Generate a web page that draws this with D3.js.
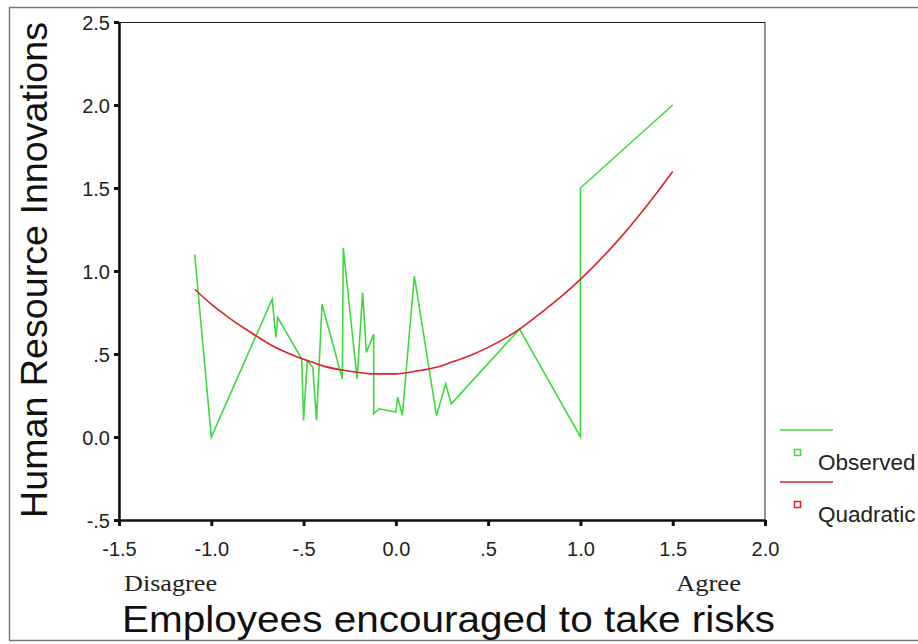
<!DOCTYPE html>
<html>
<head>
<meta charset="utf-8">
<script src="https://cdn.jsdelivr.net/npm/d3@7"></script>
<style>
  html, body { margin: 0; padding: 0; background: #fff; }
  svg { display: block; }
</style>
</head>
<body>
<svg id="chart" width="918" height="644"></svg>
<script>
// observed points (x = risk score, y = HR innovations)
const obsX = [-1.09, -1.0, -0.67, -0.65, -0.64, -0.51, -0.50, -0.48, -0.45, -0.43, -0.40,
  -0.29, -0.285, -0.21, -0.18, -0.16, -0.12, -0.12, -0.09, 0.0, 0.01, 0.035, 0.10,
  0.22, 0.27, 0.30, 0.67, 1.0, 1.0, 1.5];
const obsY = [1.10, 0.0, 0.83, 0.60, 0.72, 0.47, 0.10, 0.46, 0.42, 0.10, 0.80,
  0.35, 1.14, 0.35, 0.87, 0.51, 0.62, 0.14, 0.17, 0.15, 0.24, 0.13, 0.97,
  0.13, 0.32, 0.20, 0.65, 0.0, 1.5, 2.0];
// quadratic fit
const quadX = [-1.09, -1.0, -0.9, -0.8, -0.67, -0.55, -0.45, -0.40, -0.30, -0.21, -0.12,
  -0.05, 0.0, 0.10, 0.22, 0.30, 0.40, 0.50, 0.60, 0.67, 0.80, 0.90, 1.0, 1.2, 1.35, 1.5];
const quadY = [0.89, 0.80, 0.715, 0.64, 0.55, 0.49, 0.45, 0.43, 0.405, 0.39, 0.38,
  0.38, 0.38, 0.395, 0.42, 0.45, 0.49, 0.54, 0.60, 0.65, 0.76, 0.85, 0.95, 1.18, 1.38, 1.60];

const xTicks = [-1.5, -1.0, -0.5, 0.0, 0.5, 1.0, 1.5, 2.0];
const yTicks = [-0.5, 0.0, 0.5, 1.0, 1.5, 2.0, 2.5];
const legendItems = ['Observed', 'Quadratic'];

const green = '#3fd93f', red = '#d8232a';
const svg = d3.select('#chart');
const margin = { left: 119, top: 22, right: 765, bottom: 520 };

const x = d3.scaleLinear().domain([-1.5, 2.0]).range([margin.left, margin.right]);
const y = d3.scaleLinear().domain([-0.5, 2.5]).range([margin.bottom, margin.top]);

// SPSS style: 0.0, .5, -.5
const fmt = (v) => {
  if (v === 0) return '0.0';
  const s = v.toFixed(1);
  return s.replace(/^(-?)0\./, '$1.');
};

// outer frame
svg.append('rect')
  .attr('x', 9.5).attr('y', 7.5).attr('width', 930).attr('height', 633)
  .attr('fill', 'none').attr('stroke', '#777').attr('stroke-width', 1.5);

// plot frame
svg.append('rect')
  .attr('x', margin.left).attr('y', margin.top + 0.5)
  .attr('width', margin.right - margin.left).attr('height', margin.bottom - margin.top)
  .attr('fill', '#fff').attr('stroke', '#222').attr('stroke-width', 1);

const line = d3.line().x(d => x(d[0])).y(d => y(d[1]));

svg.append('path')
  .datum(d3.zip(obsX, obsY))
  .attr('d', line)
  .attr('fill', 'none').attr('stroke', green).attr('stroke-width', 1.6);

svg.append('path')
  .datum(d3.zip(quadX, quadY))
  .attr('d', line.curve(d3.curveMonotoneX))
  .attr('fill', 'none').attr('stroke', red).attr('stroke-width', 1.6);

// axes
const xAxis = svg.append('g')
  .attr('transform', 'translate(0,' + margin.bottom + ')')
  .call(d3.axisBottom(x).tickValues(xTicks).tickSize(6).tickSizeOuter(0).tickFormat(fmt));
const yAxis = svg.append('g')
  .attr('transform', 'translate(' + margin.left + ',0)')
  .call(d3.axisLeft(y).tickValues(yTicks).tickSize(5).tickSizeOuter(0).tickFormat(fmt));

[xAxis, yAxis].forEach(g => {
  g.select('.domain').attr('stroke', '#111').attr('stroke-width', 2.5);
  g.selectAll('.tick line').attr('stroke', '#111').attr('stroke-width', 3);
  g.selectAll('.tick text')
    .attr('fill', '#222')
    .style('font-family', 'Liberation Sans, Arial, sans-serif')
    .style('font-size', '20px');
});
xAxis.selectAll('.tick text').attr('dy', 0).attr('y', 36);
yAxis.selectAll('.tick text').attr('x', -9).attr('dy', '0.35em');

// anchors and titles
svg.append('text').attr('x', 124).attr('y', 591)
  .style('font-family', 'Liberation Serif, Times New Roman, serif').style('font-size', '24px')
  .attr('textLength', 93).attr('lengthAdjust', 'spacingAndGlyphs')
  .attr('fill', '#222').text('Disagree');
svg.append('text').attr('x', 676).attr('y', 591)
  .style('font-family', 'Liberation Serif, Times New Roman, serif').style('font-size', '24px')
  .attr('textLength', 65).attr('lengthAdjust', 'spacingAndGlyphs')
  .attr('fill', '#222').text('Agree');

svg.append('text').attr('x', 122).attr('y', 632)
  .style('font-family', 'Liberation Sans, Arial, sans-serif').style('font-size', '37px')
  .attr('textLength', 653).attr('lengthAdjust', 'spacingAndGlyphs')
  .attr('fill', '#111').text('Employees encouraged to take risks');

svg.append('text')
  .attr('transform', 'translate(47,518) rotate(-90)')
  .style('font-family', 'Liberation Sans, Arial, sans-serif').style('font-size', '37px')
  .attr('textLength', 496).attr('lengthAdjust', 'spacingAndGlyphs')
  .attr('fill', '#111').text('Human Resource Innovations');

// legend
const legend = svg.append('g').attr('transform', 'translate(780,430)');
legendItems.forEach((name, i) => {
  const c = i === 0 ? green : red;
  const g = legend.append('g').attr('transform', 'translate(0,' + i * 52 + ')');
  g.append('line').attr('x1', 0).attr('x2', 53).attr('y1', 0).attr('y2', 0)
    .attr('stroke', c).attr('stroke-width', 1.6);
  g.append('rect').attr('x', 14.5).attr('y', 19.5).attr('width', 6).attr('height', 6)
    .attr('fill', '#fff').attr('stroke', c).attr('stroke-width', 1.5);
  g.append('text').attr('x', 38).attr('y', 40)
    .style('font-family', 'Liberation Sans, Arial, sans-serif').style('font-size', '22.5px')
    .attr('fill', '#222').text(name);
});
</script>
</body>
</html>
